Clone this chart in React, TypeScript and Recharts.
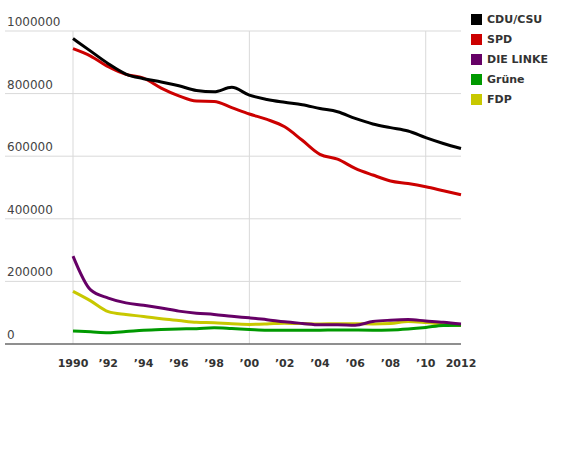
import { LineChart, Line, XAxis, YAxis, CartesianGrid } from "recharts"

const YEARS = [
  1990, 1991, 1992, 1993, 1994, 1995, 1996, 1997, 1998, 1999, 2000, 2001,
  2002, 2003, 2004, 2005, 2006, 2007, 2008, 2009, 2010, 2011, 2012,
]

const CDU_CSU = [
  975800, 935700, 895600, 862600, 847700, 837300, 825100, 810200, 805900,
  819900, 795100, 781200, 772100, 764200, 752400, 742000, 720800, 703000,
  691200, 680300, 659200, 640500, 624700,
]
const SPD = [
  943400, 919900, 886000, 861500, 849400, 817700, 792800, 776200, 775000,
  755100, 734700, 717500, 693900, 650800, 605800, 590500, 561200, 539900,
  521000, 512500, 502100, 489600, 477000,
]
const LINKE = [
  280900, 172600, 146700, 131400, 123800, 114900, 105000, 98600, 94600,
  88600, 83500, 77800, 70800, 65800, 61400, 61500, 60300, 71700, 76000,
  78000, 73700, 69500, 63800,
]
const GRUENE = [
  41300, 38900, 36300, 39800, 43900, 46400, 48000, 49000, 51800, 49500,
  46600, 44100, 43900, 44100, 44300, 45100, 44700, 44300, 45100, 48200,
  53000, 59100, 59700,
]
const FDP = [
  168200, 137900, 103500, 94200, 88000, 80400, 75000, 69600, 67900, 64400,
  62700, 64100, 66600, 65200, 64100, 65000, 64900, 64100, 65600, 72100,
  68500, 63100, 58700,
]

const X_TICKS = [1990, 1992, 1994, 1996, 1998, 2000, 2002, 2004, 2006, 2008, 2010, 2012]
const Y_TICKS = [0, 200000, 400000, 600000, 800000, 1000000]
const V_GRID = [1990, 2000, 2010]

const SERIES = [
  { key: "cdu", name: "CDU/CSU", color: "#000000" },
  { key: "spd", name: "SPD", color: "#cc0000" },
  { key: "linke", name: "DIE LINKE", color: "#660066" },
  { key: "gruene", name: "Grüne", color: "#009900" },
  { key: "fdp", name: "FDP", color: "#c8c800" },
]

// draw order: small parties first, Linke above FDP/Grüne, big two on top
const DRAW_ORDER = ["fdp", "gruene", "linke", "spd", "cdu"]

const data = YEARS.map((year, i) => ({
  year,
  cdu: CDU_CSU[i],
  spd: SPD[i],
  linke: LINKE[i],
  gruene: GRUENE[i],
  fdp: FDP[i],
}))

const FONT = "'DejaVu Sans', sans-serif"

const yearLabel = (y: number) =>
  y === 1990 || y === 2012 ? String(y) : "\u2019" + String(y).slice(2)

function YTick({ y, payload }: any) {
  return (
    <text x={7} y={y - 5} fill="#444" fontSize={12} fontFamily={FONT}>
      {payload.value}
    </text>
  )
}

function XTick({ x, y, payload }: any) {
  return (
    <text
      x={x}
      y={y + 15}
      textAnchor="middle"
      fill="#333"
      fontSize={11}
      fontWeight="bold"
      fontFamily={FONT}
    >
      {yearLabel(payload.value)}
    </text>
  )
}

function LegendBox() {
  return (
    <div
      style={{
        position: "absolute",
        left: 471,
        top: 9,
        fontFamily: FONT,
        fontSize: 11,
        fontWeight: "bold",
        color: "#333",
      }}
    >
      {SERIES.map((s) => (
        <div key={s.key} style={{ display: "flex", alignItems: "center", height: 20 }}>
          <span
            style={{ width: 11, height: 11, background: s.color, marginRight: 5, display: "inline-block" }}
          />
          {s.name}
        </div>
      ))}
    </div>
  )
}

export default function App() {
  return (
    <div style={{ position: "absolute", left: 0, top: 0, width: 580, height: 450 }}>
      <LineChart
        width={580}
        height={450}
        data={data}
        margin={{ top: 31, right: 119, bottom: 76, left: 4 }}
      >
        <CartesianGrid stroke="#d9d9d9" verticalValues={V_GRID} />
        <XAxis
          dataKey="year"
          type="number"
          domain={[1986.144, 2012]}
          ticks={X_TICKS}
          tick={<XTick />}
          tickLine={false}
          axisLine={{ stroke: "#333" }}
          height={30}
          interval={0}
        />
        <YAxis
          domain={[0, 1000000]}
          ticks={Y_TICKS}
          tick={<YTick />}
          tickLine={false}
          axisLine={false}
          width={1}
          interval={0}
        />
        {DRAW_ORDER.map((k) => {
          const s = SERIES.find((x) => x.key === k)!
          return (
            <Line
              key={k}
              type="monotone"
              dataKey={k}
              name={s.name}
              stroke={s.color}
              strokeWidth={3}
              dot={false}
              isAnimationActive={false}
            />
          )
        })}
      </LineChart>
      <LegendBox />
    </div>
  )
}
